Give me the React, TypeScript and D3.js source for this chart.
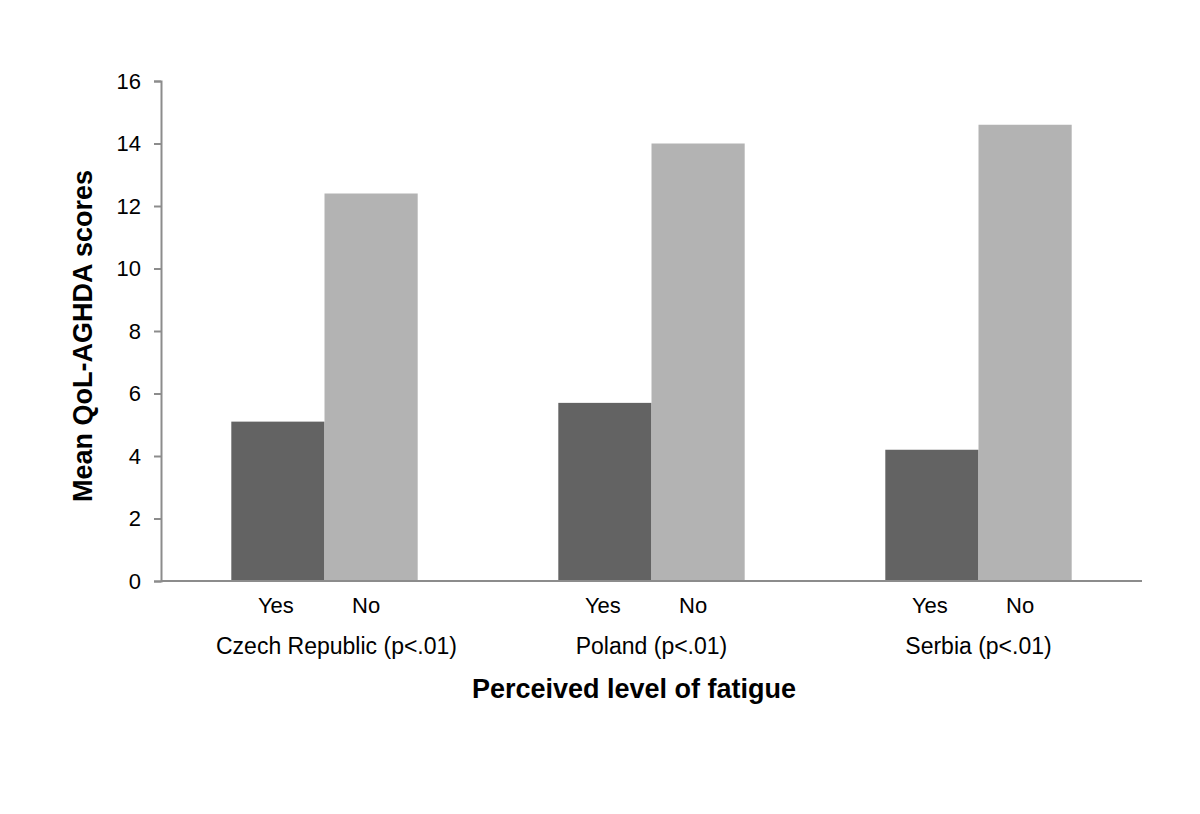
import React, { useEffect, useRef } from "react";
import * as d3 from "d3";

// Chart data
const countries = ["Czech Republic", "Poland", "Serbia"];
const countryLabels = [
  "Czech Republic (p<.01)",
  "Poland (p<.01)",
  "Serbia (p<.01)",
];
const fatigueLevels = ["Yes", "No"];
const yesValues = [5.1, 5.7, 4.2];
const noValues = [12.4, 14.0, 14.6];
const yTicks = [0, 2, 4, 6, 8, 10, 12, 14, 16];

const colors = { Yes: "#636363", No: "#b3b3b3" };

const App = () => {
  const svgRef = useRef<SVGSVGElement | null>(null);
  const width = 1200;
  const height = 814;
  const margin = { top: 81, right: 58, bottom: 233, left: 161 };
  const innerW = width - margin.left - margin.right;
  const innerH = height - margin.top - margin.bottom;

  useEffect(() => {
    const svg = d3.select(svgRef.current);
    svg.selectAll("*").remove();

    const font = "'Liberation Sans', Arial, sans-serif";

    //// Scales
    const x0 = d3.scaleBand().domain(countries).range([0, innerW]).padding(0);
    const groupW = x0.bandwidth() * 0.57;
    const x1 = d3.scaleBand().domain(fatigueLevels).range([0, groupW]);
    const y = d3.scaleLinear().domain([0, 16]).range([innerH, 0]);

    const g = svg
      .append("g")
      .attr("transform", `translate(${margin.left},${margin.top})`);

    //// Bars
    const rows = countries.map((c, i) => ({
      country: c,
      values: [
        { key: "Yes", value: yesValues[i] },
        { key: "No", value: noValues[i] },
      ],
    }));

    const groups = g
      .selectAll("g.grp")
      .data(rows)
      .enter()
      .append("g")
      .attr("class", "grp")
      .attr(
        "transform",
        (d) =>
          `translate(${x0(d.country)! + x0.bandwidth() / 2 - groupW / 2},0)`
      );

    groups
      .selectAll("rect")
      .data((d) => d.values)
      .enter()
      .append("rect")
      .attr("x", (d) => x1(d.key)!)
      .attr("y", (d) => y(d.value))
      .attr("width", x1.bandwidth())
      .attr("height", (d) => innerH - y(d.value))
      .attr("fill", (d) => colors[d.key as "Yes" | "No"]);

    // Yes / No labels under the bars
    groups
      .selectAll("text")
      .data((d) => d.values)
      .enter()
      .append("text")
      .attr("x", (d) => x1(d.key)! + x1.bandwidth() / 2 + (d.key === "Yes" ? -2 : -5))
      .attr("y", innerH + 32)
      .attr("text-anchor", "middle")
      .attr("font-family", font)
      .attr("font-size", 22)
      .attr("fill", "#000")
      .text((d) => d.key);

    // Country labels
    g.selectAll("text.cat")
      .data(countries)
      .enter()
      .append("text")
      .attr("class", "cat")
      .attr("x", (d, i) => x0(d)! + x0.bandwidth() / 2 + (i === 0 ? 12 : 0))
      .attr("y", innerH + 73)
      .attr("text-anchor", "middle")
      .attr("font-family", font)
      .attr("font-size", 23)
      .attr("fill", "#000")
      .text((d, i) => countryLabels[i]);

    //// Axes
    const axisColor = "#8c8c8c";
    // x axis line
    g.append("line")
      .attr("x1", 0)
      .attr("x2", innerW)
      .attr("y1", innerH)
      .attr("y2", innerH)
      .attr("stroke", axisColor)
      .attr("stroke-width", 2);

    const yAxisG = g
      .append("g")
      .call(d3.axisLeft(y).tickValues(yTicks).tickSize(7).tickPadding(13));
    yAxisG.select(".domain").attr("stroke", axisColor).attr("stroke-width", 2);
    yAxisG.selectAll(".tick line").attr("stroke", axisColor).attr("stroke-width", 2);
    yAxisG
      .selectAll(".tick text")
      .attr("font-family", font)
      .attr("font-size", 22)
      .attr("fill", "#000");

    //// Titles
    svg
      .append("text")
      .attr("x", 634)
      .attr("y", 698)
      .attr("text-anchor", "middle")
      .attr("font-family", font)
      .attr("font-weight", "bold")
      .attr("font-size", 27)
      .attr("fill", "#000")
      .text("Perceived level of fatigue");

    svg
      .append("text")
      .attr("transform", `translate(92,336) rotate(-90)`)
      .attr("text-anchor", "middle")
      .attr("font-family", font)
      .attr("font-weight", "bold")
      .attr("font-size", 27)
      .attr("fill", "#000")
      .text("Mean QoL-AGHDA scores");
  }, []);

  return (
    <div style={{ position: "absolute", left: 0, top: 0 }}>
      <svg
        ref={svgRef}
        width={width}
        height={height}
        style={{ display: "block", background: "#fff" }}
      ></svg>
    </div>
  );
};

export default App;
